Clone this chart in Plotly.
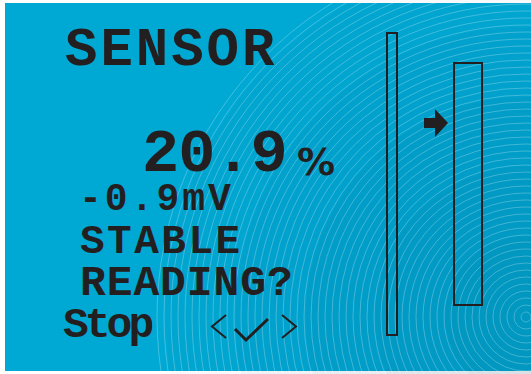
import plotly.graph_objects as go

W, H = 531, 374
BLUE = "#00a9d4"
INK = "#231f20"
FONT = "Liberation Mono"

TITLE = "SENSOR"
READING = 20.9
UNIT = "%"
MILLIVOLTS = -0.9
STATUS = ["STABLE", "READING?"]
BUTTON = "Stop"

RING_CENTER = (526, 317)
RING_STEP = 7
RING_MAX = 370


def spaced(text, px):
    return f'<span style="letter-spacing:{px}px">{text}</span>'


def label(x, y, text, size, spacing=0, box=None, family=FONT):
    return dict(
        x=x, y=y, xref="x", yref="y", xanchor="left", yanchor="middle",
        text="<b>" + spaced(text, spacing) + "</b>", showarrow=False,
        height=box, valign="middle",
        font=dict(family=family, size=size, color=INK),
    )


fig = go.Figure()
shapes = [dict(type="rect", x0=5, x1=W, y0=3, y1=371, fillcolor=BLUE,
               line=dict(width=0), layer="below")]

cx, cy = RING_CENTER
# soft darkening toward the ring centre
for r in (360, 290, 220, 150, 80):
    shapes.append(dict(type="circle", x0=cx - r, x1=cx + r, y0=cy - r, y1=cy + r,
                       fillcolor="#00385a", opacity=0.03, line=dict(width=0), layer="below"))
for r in range(5, RING_MAX, RING_STEP):
    shapes.append(dict(type="circle", x0=cx - r, x1=cx + r, y0=cy - r, y1=cy + r,
                       line=dict(color="rgba(255,255,255,0.32)", width=0.8), layer="below"))

# level gauges
shapes.append(dict(type="rect", x0=387, x1=397, y0=33, y1=335, line=dict(color=INK, width=2)))
shapes.append(dict(type="rect", x0=454, x1=482, y0=63, y1=305, line=dict(color=INK, width=2)))
# pointer arrow
shapes.append(dict(type="path", path="M424,118 L435,118 L435,109 L448,123 L435,137 L435,128 L424,128 Z",
                   fillcolor=INK, line=dict(width=0)))
# navigation icons
shapes.append(dict(type="path", path="M226,315 L212,326.5 L226,338", line=dict(color=INK, width=2)))
shapes.append(dict(type="path", path="M235,329 L246,340 L268,319", line=dict(color=INK, width=3)))
shapes.append(dict(type="path", path="M282,315 L296,326.5 L282,338", line=dict(color=INK, width=2)))

annotations = [
    label(63, 49.5, TITLE, 54, 3, box=46),
    label(140, 153.5, f"{READING:.1f}", 62, -1, box=52),
    label(295, 162, UNIT, 38, box=32, family="DejaVu Sans"),
    label(77, 199, f"{MILLIVOLTS:.1f}mV", 38, 3, box=32),
    label(78, 241.5, STATUS[0], 41, 2.5, box=34),
    label(78, 282.5, STATUS[1], 43, 0.9, box=34),
    label(61, 325, BUTTON, 43, -4, box=44),
]

fig.update_layout(
    width=W, height=H, margin=dict(l=0, r=0, t=0, b=0),
    paper_bgcolor="white", plot_bgcolor="white", showlegend=False,
    xaxis=dict(range=[0, W], visible=False, fixedrange=True),
    yaxis=dict(range=[H, 0], visible=False, fixedrange=True),
    shapes=shapes, annotations=annotations,
)
fig.write_html("out.html", config={"displayModeBar": False},
               post_script="document.body.style.margin='0';")
